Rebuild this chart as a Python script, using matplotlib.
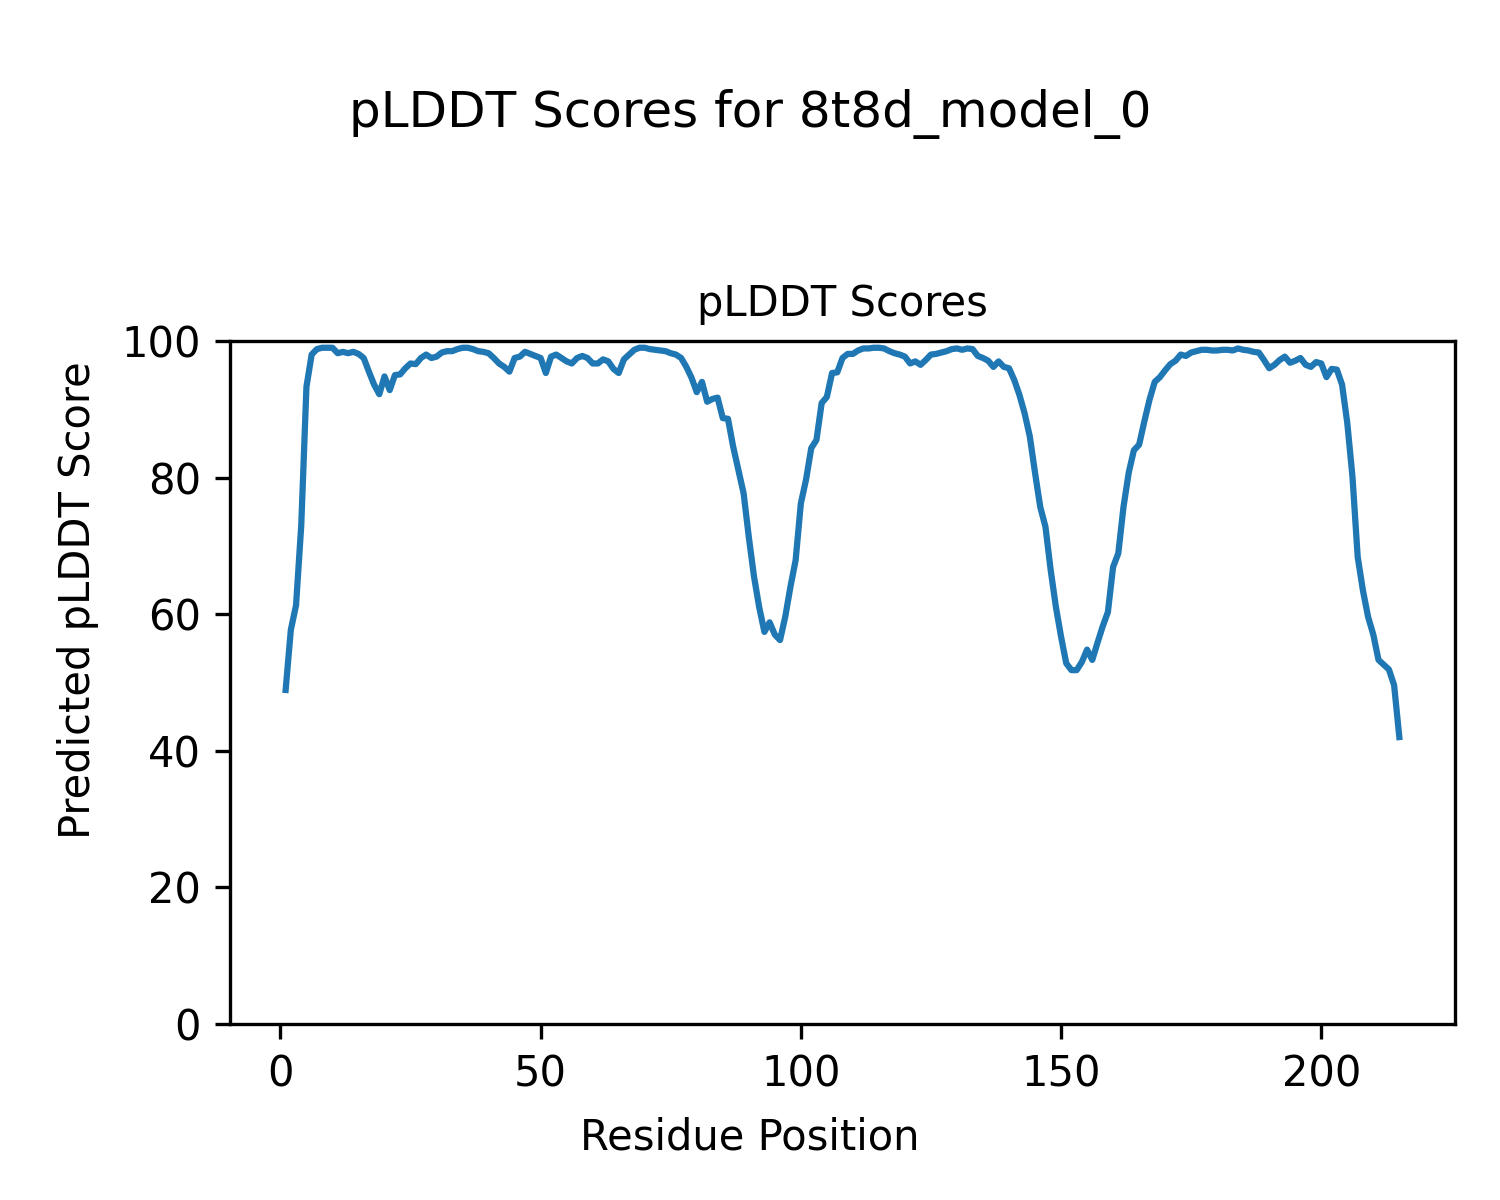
import numpy as np
import matplotlib
matplotlib.use("Agg")
import matplotlib.pyplot as plt

# pLDDT per residue
plddt = [
    48.9, 57.7, 61.3, 73.0, 93.3, 98.0, 98.8, 99.0, 99.0, 99.0,
    98.2, 98.4, 98.2, 98.4, 98.1, 97.5, 95.5, 93.6, 92.2, 94.8,
    92.8, 95.0, 95.1, 96.0, 96.7, 96.6, 97.5, 98.0, 97.5, 97.7,
    98.3, 98.5, 98.5, 98.8, 99.0, 99.0, 98.8, 98.5, 98.4, 98.2,
    97.5, 96.7, 96.2, 95.5, 97.5, 97.7, 98.4, 98.1, 97.8, 97.5,
    95.3, 97.7, 98.0, 97.5, 97.0, 96.7, 97.5, 97.8, 97.5, 96.7,
    96.7, 97.3, 97.0, 95.9, 95.3, 97.3, 98.0, 98.7, 99.0, 99.0,
    98.8, 98.7, 98.6, 98.5, 98.2, 98.0, 97.5, 96.2, 94.6, 92.5,
    94.0, 91.1, 91.5, 91.7, 88.7, 88.6, 84.5, 81.1, 77.7, 71.3,
    65.5, 61.0, 57.4, 58.8, 57.0, 56.2, 59.6, 64.0, 67.9, 76.2,
    79.7, 84.3, 85.5, 90.9, 91.8, 95.3, 95.4, 97.5, 98.1, 98.1,
    98.6, 98.9, 98.9, 99.0, 99.0, 98.9, 98.5, 98.2, 98.0, 97.7,
    96.7, 97.0, 96.5, 97.2, 98.0, 98.1, 98.3, 98.5, 98.8, 98.9,
    98.7, 98.9, 98.8, 97.8, 97.5, 97.1, 96.2, 97.0, 96.2, 96.0,
    94.3, 92.1, 89.4, 86.0, 80.7, 75.7, 72.8, 66.5, 61.1, 56.7,
    52.8, 51.8, 51.8, 53.0, 54.8, 53.3, 55.8, 58.2, 60.3, 66.9,
    68.9, 75.7, 80.7, 84.0, 84.8, 88.2, 91.4, 94.0, 94.7, 95.7,
    96.6, 97.1, 98.0, 97.8, 98.3, 98.5, 98.7, 98.7, 98.6, 98.6,
    98.7, 98.7, 98.6, 98.9, 98.7, 98.6, 98.4, 98.3, 97.2, 96.0,
    96.5, 97.2, 97.7, 96.8, 97.1, 97.5, 96.5, 96.2, 96.9, 96.7,
    94.7, 95.9, 95.8, 93.6, 88.0, 80.1, 68.4, 63.5, 59.6, 57.0,
    53.3, 52.6, 51.9, 49.6, 42.0,
]
residues = np.arange(1, len(plddt) + 1)

fig = plt.figure(figsize=(5, 4), dpi=300)
ax = fig.add_axes([0.1533, 0.1467, 0.8167, 0.5692])

ax.plot(residues, plddt, color="#1f77b4")
ax.set_ylim(0, 100)
ax.set_title("pLDDT Scores", fontsize=10)

fig.suptitle("pLDDT Scores for 8t8d_model_0", fontsize=12, y=0.905, va="center")
fig.supxlabel("Residue Position", fontsize=10, y=0.052, va="center")
fig.supylabel("Predicted pLDDT Score", fontsize=10, x=0.052, ha="center")

plt.savefig("out.png", dpi=300)
